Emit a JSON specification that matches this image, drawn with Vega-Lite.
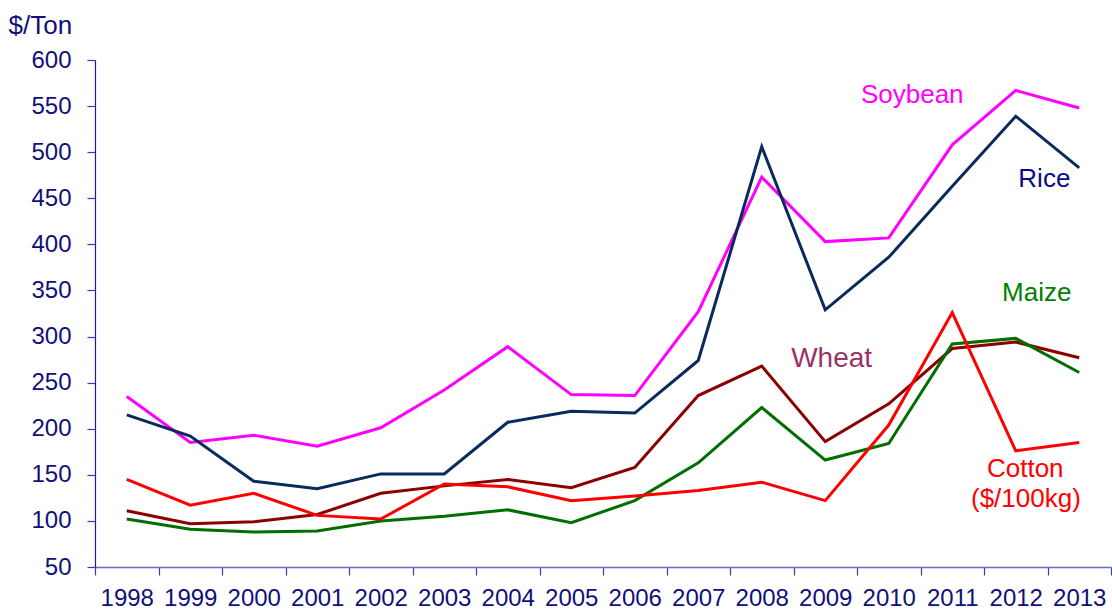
{
  "$schema": "https://vega.github.io/schema/vega-lite/v6.json",
  "autosize": "none",
  "width": 1016,
  "height": 507,
  "padding": {"left": 95, "top": 60, "right": 1, "bottom": 43},
  "background": "white",
  "config": {
    "view": {"stroke": null},
    "font": "Liberation Sans",
    "axis": {"grid": false, "labelFont": "Liberation Sans", "titleFont": "Liberation Sans"}
  },
  "datasets": {
    "prices": [
      {"year": 1998, "crop": "Soybean", "price": 235}, {"year": 1999, "crop": "Soybean", "price": 185}, {"year": 2000, "crop": "Soybean", "price": 193}, {"year": 2001, "crop": "Soybean", "price": 181}, {"year": 2002, "crop": "Soybean", "price": 201}, {"year": 2003, "crop": "Soybean", "price": 242}, {"year": 2004, "crop": "Soybean", "price": 289}, {"year": 2005, "crop": "Soybean", "price": 237}, {"year": 2006, "crop": "Soybean", "price": 236}, {"year": 2007, "crop": "Soybean", "price": 327}, {"year": 2008, "crop": "Soybean", "price": 473}, {"year": 2009, "crop": "Soybean", "price": 403}, {"year": 2010, "crop": "Soybean", "price": 407}, {"year": 2011, "crop": "Soybean", "price": 508}, {"year": 2012, "crop": "Soybean", "price": 567}, {"year": 2013, "crop": "Soybean", "price": 548},
      {"year": 1998, "crop": "Rice", "price": 215}, {"year": 1999, "crop": "Rice", "price": 192}, {"year": 2000, "crop": "Rice", "price": 143}, {"year": 2001, "crop": "Rice", "price": 135}, {"year": 2002, "crop": "Rice", "price": 151}, {"year": 2003, "crop": "Rice", "price": 151}, {"year": 2004, "crop": "Rice", "price": 207}, {"year": 2005, "crop": "Rice", "price": 219}, {"year": 2006, "crop": "Rice", "price": 217}, {"year": 2007, "crop": "Rice", "price": 274}, {"year": 2008, "crop": "Rice", "price": 506}, {"year": 2009, "crop": "Rice", "price": 329}, {"year": 2010, "crop": "Rice", "price": 386}, {"year": 2011, "crop": "Rice", "price": 463}, {"year": 2012, "crop": "Rice", "price": 539}, {"year": 2013, "crop": "Rice", "price": 483},
      {"year": 1998, "crop": "Wheat", "price": 111}, {"year": 1999, "crop": "Wheat", "price": 97}, {"year": 2000, "crop": "Wheat", "price": 99}, {"year": 2001, "crop": "Wheat", "price": 107}, {"year": 2002, "crop": "Wheat", "price": 130}, {"year": 2003, "crop": "Wheat", "price": 138}, {"year": 2004, "crop": "Wheat", "price": 145}, {"year": 2005, "crop": "Wheat", "price": 136}, {"year": 2006, "crop": "Wheat", "price": 158}, {"year": 2007, "crop": "Wheat", "price": 236}, {"year": 2008, "crop": "Wheat", "price": 268}, {"year": 2009, "crop": "Wheat", "price": 186}, {"year": 2010, "crop": "Wheat", "price": 227}, {"year": 2011, "crop": "Wheat", "price": 287}, {"year": 2012, "crop": "Wheat", "price": 294}, {"year": 2013, "crop": "Wheat", "price": 277},
      {"year": 1998, "crop": "Maize", "price": 102}, {"year": 1999, "crop": "Maize", "price": 91}, {"year": 2000, "crop": "Maize", "price": 88}, {"year": 2001, "crop": "Maize", "price": 89}, {"year": 2002, "crop": "Maize", "price": 100}, {"year": 2003, "crop": "Maize", "price": 105}, {"year": 2004, "crop": "Maize", "price": 112}, {"year": 2005, "crop": "Maize", "price": 98}, {"year": 2006, "crop": "Maize", "price": 122}, {"year": 2007, "crop": "Maize", "price": 163}, {"year": 2008, "crop": "Maize", "price": 223}, {"year": 2009, "crop": "Maize", "price": 166}, {"year": 2010, "crop": "Maize", "price": 184}, {"year": 2011, "crop": "Maize", "price": 292}, {"year": 2012, "crop": "Maize", "price": 298}, {"year": 2013, "crop": "Maize", "price": 261},
      {"year": 1998, "crop": "Cotton", "price": 145}, {"year": 1999, "crop": "Cotton", "price": 117}, {"year": 2000, "crop": "Cotton", "price": 130}, {"year": 2001, "crop": "Cotton", "price": 106}, {"year": 2002, "crop": "Cotton", "price": 102}, {"year": 2003, "crop": "Cotton", "price": 140}, {"year": 2004, "crop": "Cotton", "price": 137}, {"year": 2005, "crop": "Cotton", "price": 122}, {"year": 2006, "crop": "Cotton", "price": 127}, {"year": 2007, "crop": "Cotton", "price": 133}, {"year": 2008, "crop": "Cotton", "price": 142}, {"year": 2009, "crop": "Cotton", "price": 122}, {"year": 2010, "crop": "Cotton", "price": 204}, {"year": 2011, "crop": "Cotton", "price": 326}, {"year": 2012, "crop": "Cotton", "price": 176}, {"year": 2013, "crop": "Cotton", "price": 185}
    ],
    "labels": [
      {"crop": "Soybean", "text": "Soybean", "lx": 2010.37, "ly": 562, "size": 26},
      {"crop": "Rice", "text": "Rice", "lx": 2012.45, "ly": 471, "size": 26},
      {"crop": "Maize", "text": "Maize", "lx": 2012.33, "ly": 347, "size": 26},
      {"crop": "Wheat", "text": "Wheat", "lx": 2009.1, "ly": 276, "size": 28},
      {"crop": "Cotton", "text": "Cotton", "lx": 2012.15, "ly": 156, "size": 26},
      {"crop": "Cotton", "text": "($/100kg)", "lx": 2012.16, "ly": 124, "size": 26}
    ]
  },
  "resolve": {"axis": {"x": "independent"}, "scale": {"color": "independent"}},
  "layer": [
    {
      "data": {"name": "prices"},
      "mark": {"type": "line", "strokeWidth": 3, "strokeJoin": "miter", "clip": false},
      "encoding": {
        "x": {
          "field": "year", "type": "quantitative",
          "scale": {"domain": [1997.5, 2013.5], "nice": false, "zero": false},
          "axis": {
            "orient": "bottom",
            "values": [1997.5, 1998.5, 1999.5, 2000.5, 2001.5, 2002.5, 2003.5, 2004.5, 2005.5, 2006.5, 2007.5, 2008.5, 2009.5, 2010.5, 2011.5, 2012.5, 2013.5],
            "labels": false, "title": null,
            "domainColor": "#6a6ab8", "domainWidth": 1.5,
            "tickColor": "#3c3ca8", "tickSize": 8, "tickWidth": 1.2
          }
        },
        "y": {
          "field": "price", "type": "quantitative",
          "scale": {"domain": [50, 600], "nice": false, "zero": false},
          "axis": {
            "values": [50, 100, 150, 200, 250, 300, 350, 400, 450, 500, 550, 600],
            "domainColor": "#1a1aa0", "domainWidth": 1.2,
            "tickColor": "#3c3ca8", "tickSize": 8, "tickWidth": 1.2,
            "labelColor": "#10107a", "labelFontSize": 24, "labelPadding": 16,
            "title": "$/Ton", "titleAngle": 0, "titleColor": "#10107a", "titleFontSize": 26,
            "titleFontWeight": "normal", "titleAlign": "left", "titleBaseline": "middle",
            "titleX": -87, "titleY": -35
          }
        },
        "detail": {"field": "crop"},
        "color": {
          "field": "crop", "type": "nominal", "legend": null,
          "scale": {
            "domain": ["Soybean", "Rice", "Wheat", "Maize", "Cotton"],
            "range": ["#ff00ff", "#0a2a5e", "#8b0000", "#006e00", "#ff0000"]
          }
        }
      }
    },
    {
      "data": {"name": "labels"},
      "mark": {"type": "text", "align": "center", "baseline": "middle", "font": "Liberation Sans"},
      "encoding": {
        "x": {
          "field": "lx", "type": "quantitative",
          "axis": {
            "orient": "bottom",
            "values": [1998, 1999, 2000, 2001, 2002, 2003, 2004, 2005, 2006, 2007, 2008, 2009, 2010, 2011, 2012, 2013],
            "format": "d", "ticks": false, "domain": false, "title": null,
            "labelColor": "#10107a", "labelFontSize": 24, "labelPadding": 19
          }
        },
        "y": {"field": "ly", "type": "quantitative"},
        "text": {"field": "text"},
        "size": {"field": "size", "type": "quantitative", "scale": null, "legend": null},
        "color": {
          "field": "crop", "type": "nominal", "legend": null,
          "scale": {
            "domain": ["Soybean", "Rice", "Wheat", "Maize", "Cotton"],
            "range": ["#ff00ff", "#0a0a8a", "#993366", "#008000", "#ff0000"]
          }
        }
      }
    }
  ]
}
